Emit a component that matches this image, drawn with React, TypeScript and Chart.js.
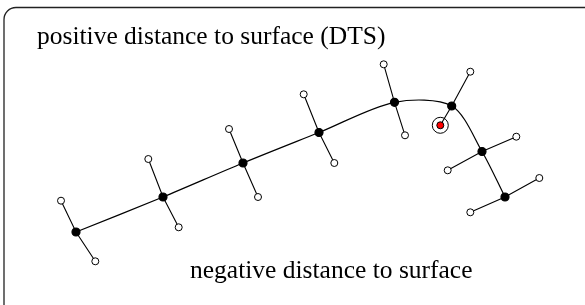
import React, { useEffect, useRef } from "react";
import { Chart, registerables } from "chart.js";

Chart.register(...registerables);

// Points on the surface curve (black dots)
const curveX = [7.6, 16.3, 24.3, 31.9, 39.45, 45.17, 48.2, 50.5];
const curveY = [7.3, 10.8, 14.2, 17.25, 20.27, 19.9, 15.35, 10.8];
// Positive-side samples (open circles)
const posX = [6.1, 14.83, 22.9, 30.37, 38.37, 47.03, 51.63, 53.93];
const posY = [10.43, 14.6, 17.6, 21.07, 24.07, 23.33, 16.83, 12.7];
// Negative-side samples (open circles; index 5 is the query point)
const negX = [9.53, 17.87, 25.8, 33.43, 40.5, 44.03, 44.77, 47.03];
const negY = [4.37, 7.77, 10.8, 14.2, 16.97, 17.97, 13.47, 9.27];
const queryIndex = 5;

const topLabel = "positive distance to surface (DTS)";
const bottomLabel = "negative distance to surface";

export default function App() {
  const ref = useRef<HTMLCanvasElement | null>(null);

  useEffect(() => {
    document.body.style.margin = "0";
    const canvas = ref.current;
    if (!canvas) return;

    const curve = curveX.map((x, i) => ({ x, y: curveY[i] }));
    const spokes = curveX.map((x, i) => {
      const isQuery = i === queryIndex;
      return {
        type: "line" as const,
        data: [
          { x: posX[i], y: posY[i] },
          { x, y: curveY[i] },
          { x: negX[i], y: negY[i] },
        ],
        borderColor: "#000",
        borderWidth: 1.1,
        tension: 0,
        pointRadius: [3.5, 0, isQuery ? 0 : 3.5],
        pointBackgroundColor: "#fff",
        pointBorderColor: "#000",
        pointBorderWidth: 1,
        showLine: true,
      };
    });

    const framePlugin = {
      id: "frame",
      beforeDraw(chart: any) {
        const c = chart.ctx;
        c.save();
        c.fillStyle = "#fff";
        c.fillRect(0, 0, chart.width, chart.height);
        c.strokeStyle = "#222";
        c.lineWidth = 1.3;
        c.beginPath();
        if ((c as any).roundRect) {
          (c as any).roundRect(4, 7.5, 600, 320, 12);
        } else {
          c.rect(4, 7.5, 600, 320);
        }
        c.stroke();
        c.restore();
      },
      afterDraw(chart: any) {
        const c = chart.ctx;
        c.save();
        c.fillStyle = "#000";
        c.font = '25.5px "Liberation Serif", "Times New Roman", serif';
        c.textBaseline = "alphabetic";
        c.textAlign = "left";
        c.fillText(topLabel, 37, 44);
        c.fillText(bottomLabel, 190, 278);
        c.restore();
      },
    };

    const chart = new Chart(canvas, {
      type: "scatter",
      data: {
        datasets: [
          {
            type: "line",
            data: [{ x: negX[queryIndex], y: negY[queryIndex] }],
            pointRadius: 3.5,
            pointBackgroundColor: "#ff0000",
            pointBorderColor: "#000",
            pointBorderWidth: 1,
            showLine: false,
          } as any,
          {
            type: "line",
            data: [{ x: negX[queryIndex], y: negY[queryIndex] }],
            pointRadius: 8,
            pointBackgroundColor: "rgba(0,0,0,0)",
            pointBorderColor: "#000",
            pointBorderWidth: 1,
            showLine: false,
          } as any,
          {
            type: "line",
            data: curve,
            borderColor: "#000",
            borderWidth: 1.2,
            tension: 0.3,
            pointRadius: 4,
            pointBackgroundColor: "#000",
            pointBorderColor: "#000",
            showLine: true,
          } as any,
          ...(spokes as any[]),
        ],
      },
      options: {
        animation: false,
        responsive: false,
        maintainAspectRatio: false,
        layout: { padding: 0, autoPadding: false } as any,
        plugins: {
          legend: { display: false },
          tooltip: { enabled: false },
          title: { display: false },
        },
        scales: {
          x: { type: "linear", min: 0, max: 58.5, display: false },
          y: { type: "linear", min: 0, max: 30.5, display: false },
        },
      },
      plugins: [framePlugin],
    });

    return () => chart.destroy();
  }, []);

  return (
    <div style={{ width: 585, height: 305 }}>
      <canvas ref={ref} width={585} height={305} style={{ display: "block" }} />
    </div>
  );
}
